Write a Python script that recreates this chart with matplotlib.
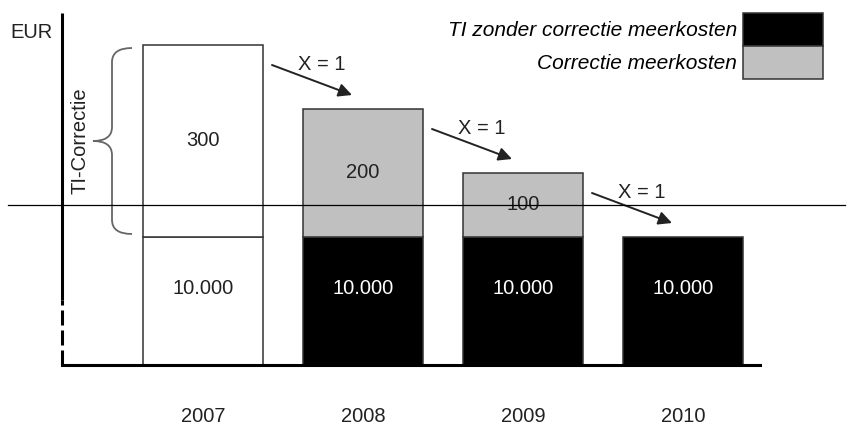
import numpy as np
import matplotlib
matplotlib.use("Agg")
import matplotlib.pyplot as plt
from matplotlib.patches import Patch, PathPatch
from matplotlib.path import Path
from matplotlib.transforms import offset_copy, Affine2D, ScaledTranslation

plt.rcParams['font.family'] = ['Liberation Sans', 'DejaVu Sans']
plt.rcParams['lines.scale_dashes'] = False

# data
years = ['2007', '2008', '2009', '2010']
base = [10000, 10000, 10000, 10000]
correction = [300, 200, 100, 0]
base_labels = ['10.000', '10.000', '10.000', '10.000']
corr_labels = ['300', '200', '100', '']
ref_level = 10050
step_label = 'X = 1'
legend_labels = ['TI zonder correctie meerkosten', 'Correctie meerkosten']

# broken y-axis: everything below 10000 squeezed
BREAK = 10000
SQUEEZE = 0.02


def forward(v):
    v = np.asarray(v, dtype=float)
    return np.where(v <= BREAK, v * SQUEEZE, BREAK * SQUEEZE + (v - BREAK))


def inverse(t):
    t = np.asarray(t, dtype=float)
    return np.where(t <= BREAK * SQUEEZE, t / SQUEEZE, BREAK + (t - BREAK * SQUEEZE))


EDGE = '#333333'
GREY = '#c0c0c0'
FS = 14.5
LFS = 15

fig = plt.figure(figsize=(8.51, 4.26), dpi=100)
ax = fig.add_axes([62 / 851, 61 / 426, 698 / 851, 352 / 426])
ax.set_yscale('function', functions=(forward, inverse))
ax.set_xlim(-0.88125, 3.48125)
ax.set_ylim(0, 10350)

x = np.arange(len(years))
w = 0.75
tops = [b + c for b, c in zip(base, correction)]

base_face = ['white'] + ['black'] * (len(years) - 1)
corr_face = ['white'] + [GREY] * (len(years) - 1)
ax.bar(x, base, width=w, color=base_face, edgecolor=EDGE, linewidth=1.1, zorder=2)
keep = [i for i, c in enumerate(correction) if c > 0]
ax.bar(x[keep], [correction[i] for i in keep], bottom=[base[i] for i in keep], width=w,
       color=[corr_face[i] for i in keep], edgecolor=EDGE, linewidth=1.1, zorder=2)

for i in x:
    ax.annotate(base_labels[i], (i, base[i] / 2), xytext=(0, 13), textcoords='offset pixels',
                ha='center', va='center', fontsize=FS,
                color='#222222' if i == 0 else 'white', zorder=3)
    if correction[i] > 0:
        ax.text(i, base[i] + correction[i] / 2, corr_labels[i], ha='center', va='center',
                fontsize=FS, color='#222222', zorder=3)

# reference line across the figure
ax.axhline(ref_level, xmin=-54 / 698, xmax=783 / 698, color='black', lw=0.9,
           clip_on=False, zorder=5)

# step arrows
start_tr = offset_copy(ax.transData, fig=fig, x=9, y=-20, units='dots')
end_tr = offset_copy(ax.transData, fig=fig, x=49, y=14, units='dots')
lab_tr = offset_copy(ax.transData, fig=fig, x=59, y=-20, units='dots')
for i in range(len(years) - 1):
    ax.annotate('', xy=(x[i + 1] - w / 2, tops[i + 1]), xycoords=end_tr,
                xytext=(x[i] + w / 2, tops[i]), textcoords=start_tr,
                arrowprops=dict(arrowstyle='-|>', mutation_scale=20, lw=1.4,
                                color='#222222', shrinkA=0, shrinkB=0))
    ax.text(x[i] + w / 2, tops[i], step_label, transform=lab_tr, ha='center', va='center',
            fontsize=FS, color='#222222')

# axes lines
for s in ['top', 'right', 'left']:
    ax.spines[s].set_visible(False)
ax.spines['bottom'].set_linewidth(2.2)
ax.spines['bottom'].set_color('black')
brk = 65 / 352
ax.plot([0, 0], [brk, 1], transform=ax.transAxes, color='black', lw=2.2,
        solid_capstyle='butt', clip_on=False)
ax.plot([0, 0], [0, brk], transform=ax.transAxes, color='black', lw=2.2,
        dashes=(10.8, 3.6), dash_capstyle='butt', clip_on=False)
ax.set_yticks([])
ax.set_xticks(x, years)
ax.tick_params(axis='x', length=0, pad=30, labelsize=FS, labelcolor='#222222')

# brace for TI-correctie
fig.canvas.draw()
_, y_lo = ax.transData.transform((0, base[0]))
_, y_hi = ax.transData.transform((0, tops[0]))
h = (y_hi - y_lo) / 2 - 3
verts = [(-11, h), (-31, h), (-31, h - 14), (-31, 14), (-31, 0), (-50, 0),
         (-31, 0), (-31, -14), (-31, -h + 14), (-31, -h), (-11, -h)]
codes = [Path.MOVETO, Path.CURVE3, Path.CURVE3, Path.LINETO, Path.CURVE3, Path.CURVE3,
         Path.CURVE3, Path.CURVE3, Path.LINETO, Path.CURVE3, Path.CURVE3]
anchor = (x[0] - w / 2, base[0] + correction[0] / 2)
brace_tr = Affine2D().scale(1 / fig.dpi) + fig.dpi_scale_trans + \
    ScaledTranslation(anchor[0], anchor[1], ax.transData)
ax.add_patch(PathPatch(Path(verts, codes), transform=brace_tr, facecolor='none',
                       edgecolor='#666666', lw=1.3, clip_on=False))
ax.text(anchor[0], anchor[1], 'TI-Correctie', rotation=90, ha='center', va='center',
        fontsize=FS, color='#222222',
        transform=offset_copy(ax.transData, fig=fig, x=-63, y=0, units='dots'))

fig.text(10 / 851, 1 - 33 / 426, 'EUR', ha='left', va='center', fontsize=FS, color='#222222')

# legend: boxes of 80 x 33 px stacked, text on the left
fs_px = LFS * 100 / 72
hh = (33 / fs_px - 0.245) / 0.65
handles = [Patch(facecolor='black', edgecolor=EDGE, lw=1.1),
           Patch(facecolor=GREY, edgecolor=EDGE, lw=1.1)]
fig.legend(handles, legend_labels, loc='upper right', bbox_to_anchor=(823 / 851, 1 - 13 / 426),
           markerfirst=False, frameon=False, borderpad=0, borderaxespad=0,
           labelspacing=0, handlelength=80 / fs_px, handleheight=hh,
           handletextpad=0.3, prop={'style': 'italic', 'size': LFS})

fig.savefig('out.png', dpi=100)
